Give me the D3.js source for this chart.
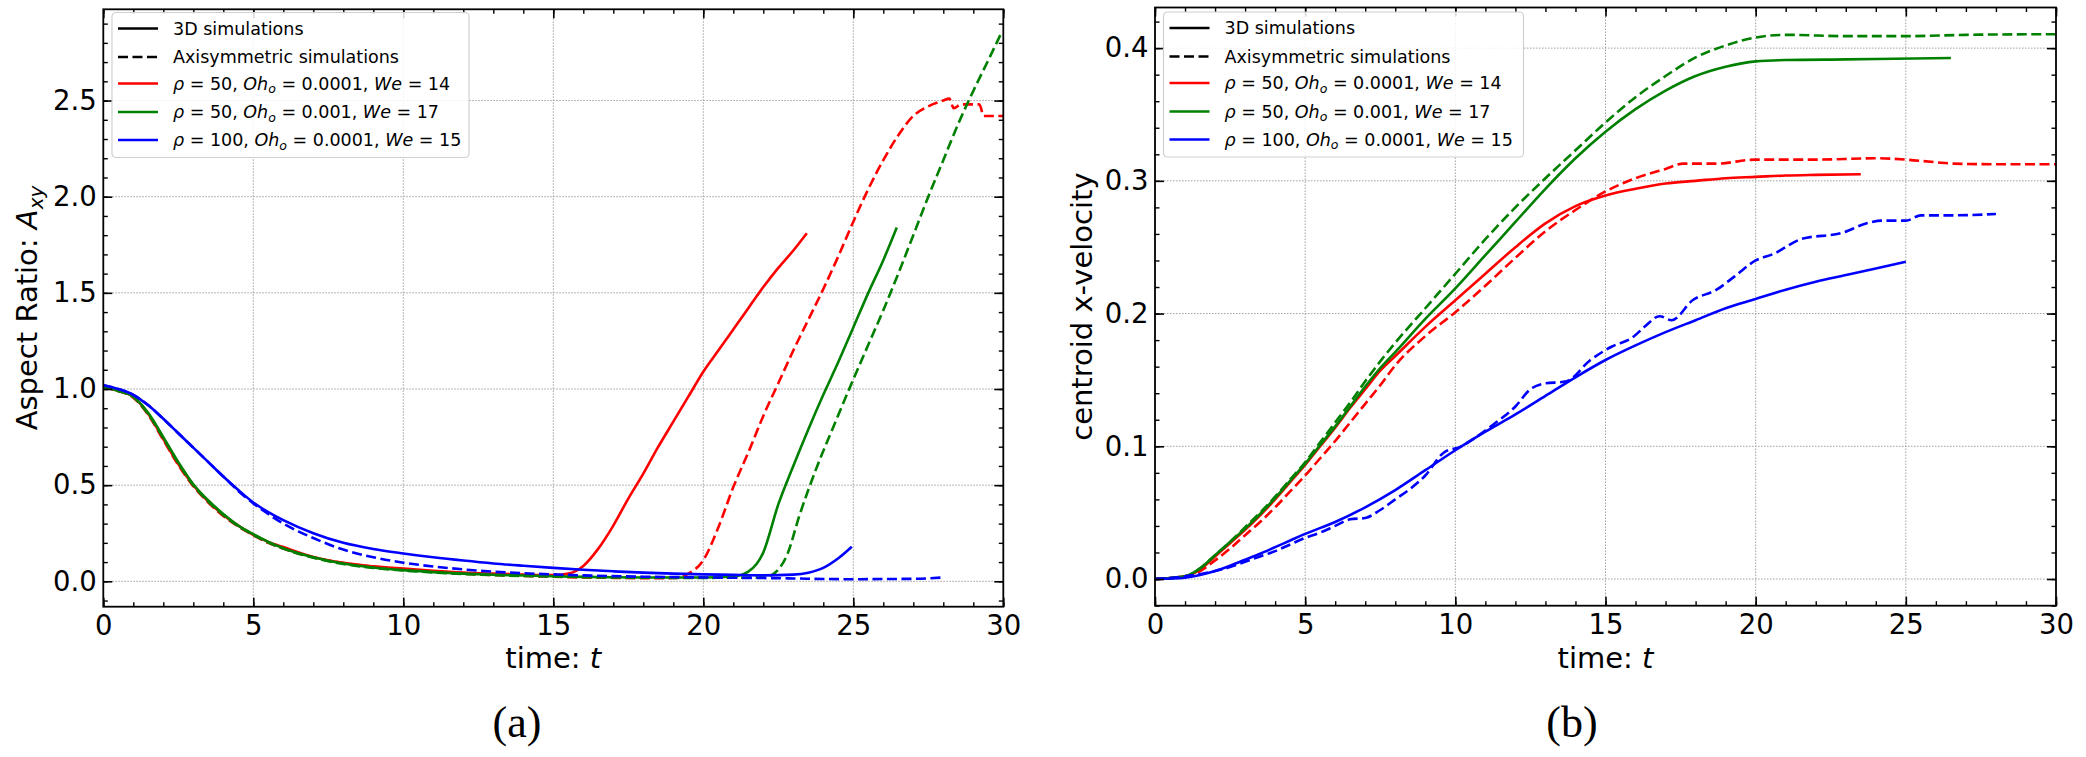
<!DOCTYPE html>
<head>
  <meta charset="utf-8">
  <style>
    body { margin: 0; background: #fff; }
    text { font-family: 'DejaVu Sans', sans-serif; fill: #000; }
    .caption { font-family: 'Liberation Serif', 'Times New Roman', serif; }
  </style>
</head>
<body>
  <script src="https://cdn.jsdelivr.net/npm/d3@7"></script>
  <script>
    // ---------- data ----------
    // panel (a): aspect ratio A_xy over time, [t, value]
    const aspRed3d = [[0,1.01],[0.5,0.99],[1,0.96],[1.5,0.87],[2,0.74],[2.5,0.61],[3,0.5],[3.5,0.415],[4,0.345],[4.5,0.29],[5,0.242],[5.5,0.205],[6,0.178],[7,0.127],[8,0.096],[9,0.078],[10,0.066],[11,0.055],[12,0.046],[13,0.04],[14,0.035],[15,0.032],[15.5,0.04],[16,0.08],[16.5,0.17],[17,0.29],[17.5,0.43],[18,0.56],[18.5,0.7],[19,0.83],[19.5,0.96],[20,1.09],[20.5,1.2],[21,1.31],[21.5,1.42],[22,1.53],[22.5,1.63],[23,1.72],[23.45,1.81]];
    const aspRedAxi = [[0,1.01],[0.5,0.99],[1,0.955],[1.5,0.865],[2,0.735],[2.5,0.605],[3,0.495],[3.5,0.41],[4,0.34],[4.5,0.285],[5,0.24],[5.5,0.2],[6,0.17],[7,0.125],[8,0.095],[9,0.075],[10,0.06],[11,0.05],[12,0.04],[13,0.033],[14,0.028],[15,0.024],[16,0.02],[17,0.018],[18,0.016],[19,0.017],[19.5,0.04],[20,0.11],[20.5,0.28],[21,0.49],[21.5,0.67],[22,0.86],[22.5,1.03],[23,1.2],[23.5,1.36],[24,1.52],[24.5,1.69],[25,1.87],[25.5,2.04],[26,2.19],[26.5,2.32],[27,2.42],[27.5,2.47],[28,2.5],[28.2,2.51],[28.35,2.46],[28.6,2.48],[29.2,2.48],[29.35,2.42],[30,2.42]];
    const aspGreen3d = [[0,1.01],[0.5,0.99],[1,0.96],[1.5,0.875],[2,0.75],[2.5,0.62],[3,0.505],[3.5,0.42],[4,0.35],[4.5,0.29],[5,0.245],[5.5,0.205],[6,0.172],[7,0.125],[8,0.093],[9,0.072],[10,0.058],[11,0.048],[12,0.04],[13,0.034],[14,0.03],[15,0.026],[16,0.023],[17,0.021],[18,0.02],[19,0.02],[20,0.02],[21,0.025],[21.5,0.05],[22,0.15],[22.5,0.4],[23,0.6],[23.5,0.79],[24,0.97],[24.5,1.14],[25,1.32],[25.5,1.5],[26,1.67],[26.45,1.84]];
    const aspGreenAxi = [[0,1.01],[0.5,0.99],[1,0.958],[1.5,0.87],[2,0.745],[2.5,0.615],[3,0.5],[3.5,0.415],[4,0.345],[4.5,0.287],[5,0.242],[5.5,0.202],[6,0.17],[7,0.122],[8,0.09],[9,0.07],[10,0.056],[11,0.046],[12,0.038],[13,0.032],[14,0.028],[15,0.025],[16,0.022],[17,0.02],[18,0.019],[19,0.018],[20,0.018],[21,0.019],[22,0.02],[22.3,0.035],[22.8,0.14],[23.2,0.34],[23.8,0.6],[24.3,0.79],[25,1.05],[25.5,1.23],[26,1.41],[26.5,1.6],[27,1.8],[27.5,2.0],[28,2.19],[28.5,2.38],[29,2.55],[29.5,2.71],[29.9,2.84]];
    const aspBlue3d = [[0,1.02],[0.5,1.0],[1,0.97],[1.5,0.915],[2,0.845],[2.5,0.77],[3,0.695],[3.5,0.62],[4,0.545],[4.5,0.475],[5,0.41],[5.5,0.36],[6,0.318],[7,0.25],[8,0.2],[9,0.168],[10,0.145],[11,0.125],[12,0.108],[13,0.093],[14,0.081],[15,0.07],[16,0.06],[17,0.052],[18,0.045],[19,0.04],[20,0.036],[21,0.034],[22,0.031],[23,0.035],[23.5,0.045],[24,0.07],[24.5,0.12],[24.95,0.18]];
    const aspBlueAxi = [[0,1.02],[0.5,1.0],[1,0.97],[1.5,0.915],[2,0.845],[2.5,0.77],[3,0.695],[3.5,0.62],[4,0.545],[4.5,0.47],[5,0.405],[5.5,0.35],[6,0.3],[6.5,0.26],[7,0.225],[8,0.165],[9,0.125],[10,0.097],[11,0.077],[12,0.062],[13,0.05],[14,0.042],[15,0.036],[16,0.031],[17,0.027],[18,0.024],[19,0.022],[20,0.02],[22,0.017],[23,0.015],[24,0.012],[25,0.011],[26,0.012],[27,0.013],[28,0.02]];

    // panel (b): centroid x-velocity over time, [t, value]
    const velRed3d = [[0,0],[1,0.002],[1.5,0.007],[2,0.017],[2.5,0.027],[3,0.037],[3.5,0.048],[4,0.06],[4.5,0.073],[5,0.086],[5.5,0.1],[6,0.114],[6.5,0.129],[7,0.143],[7.5,0.157],[8,0.168],[9,0.19],[10,0.21],[11,0.23],[12,0.25],[13,0.268],[14,0.281],[15,0.289],[16,0.294],[17,0.298],[18,0.3],[19,0.302],[20,0.303],[21,0.304],[22,0.3045],[23.5,0.305]];
    const velRedAxi = [[0,0],[1,0.002],[1.5,0.006],[2,0.014],[2.5,0.023],[3,0.033],[3.5,0.043],[4,0.054],[4.5,0.066],[5,0.078],[5.5,0.091],[6,0.104],[6.5,0.118],[7,0.132],[7.5,0.146],[8,0.161],[9,0.183],[10,0.201],[11,0.221],[12,0.242],[13,0.262],[14,0.278],[15,0.292],[16,0.302],[17,0.309],[17.6,0.313],[18.7,0.313],[20,0.316],[22,0.316],[24,0.317],[25,0.316],[26,0.314],[26.6,0.313],[28,0.3125],[30,0.3125]];
    const velGreen3d = [[0,0],[1,0.002],[1.5,0.008],[2,0.018],[2.5,0.028],[3,0.038],[3.5,0.049],[4,0.061],[4.5,0.074],[5,0.087],[5.5,0.101],[6,0.115],[6.5,0.13],[7,0.145],[7.5,0.159],[8,0.171],[9,0.196],[10,0.219],[11,0.244],[12,0.269],[13,0.294],[14,0.317],[15,0.337],[16,0.354],[17,0.368],[18,0.379],[19,0.386],[20,0.39],[21,0.391],[23,0.3915],[26.5,0.3925]];
    const velGreenAxi = [[0,0],[1,0.002],[1.5,0.008],[2,0.018],[2.5,0.028],[3,0.039],[3.5,0.05],[4,0.062],[4.5,0.075],[5,0.088],[5.5,0.103],[6,0.118],[6.5,0.133],[7,0.149],[7.5,0.164],[8,0.178],[9,0.204],[10,0.23],[11,0.256],[12,0.28],[13,0.302],[14,0.323],[15,0.344],[16,0.363],[17,0.379],[18,0.393],[19,0.402],[20,0.408],[21,0.41],[23,0.409],[25,0.409],[27,0.41],[30,0.4105]];
    const velBlue3d = [[0,0],[1,0.001],[1.5,0.003],[2,0.006],[2.5,0.01],[3,0.0145],[3.5,0.019],[4,0.024],[4.5,0.029],[5,0.034],[6,0.043],[7,0.054],[8,0.067],[9,0.082],[10,0.097],[11,0.111],[12,0.124],[13,0.138],[14,0.152],[15,0.165],[16,0.176],[17,0.186],[18,0.195],[19,0.204],[20,0.211],[21,0.218],[22,0.224],[23,0.229],[24,0.234],[25,0.239]];
    const velBlueAxi = [[0,0],[1,0.002],[2,0.006],[2.5,0.009],[3,0.013],[3.5,0.017],[4,0.021],[4.5,0.026],[5,0.031],[5.5,0.035],[6,0.04],[6.5,0.045],[7,0.046],[7.5,0.052],[8,0.06],[8.5,0.068],[9,0.078],[9.6,0.095],[10.2,0.1],[10.7,0.107],[11.3,0.117],[12,0.13],[12.5,0.143],[12.9,0.147],[13.7,0.149],[14.5,0.165],[15.2,0.175],[15.9,0.182],[16.3,0.19],[16.8,0.198],[17.2,0.195],[17.9,0.21],[18.7,0.218],[19.3,0.228],[20,0.24],[20.6,0.245],[21.5,0.256],[22.9,0.261],[23.7,0.268],[24.2,0.27],[25,0.27],[25.5,0.274],[26.5,0.274],[28,0.275]];

    // ticks and labels
    const xMajorTicks = [0, 5, 10, 15, 20, 25, 30];
    const aspMajorTicks = [0, 0.5, 1.0, 1.5, 2.0, 2.5];
    const velMajorTicks = [0, 0.1, 0.2, 0.3, 0.4];
    const caseLabels = [
      [["ρ", true], [" = 50, ", false], ["Oh", true], ["o", true, "sub"], [" = 0.0001, ", false], ["We", true], [" = 14", false]],
      [["ρ", true], [" = 50, ", false], ["Oh", true], ["o", true, "sub"], [" = 0.001, ", false], ["We", true], [" = 17", false]],
      [["ρ", true], [" = 100, ", false], ["Oh", true], ["o", true, "sub"], [" = 0.0001, ", false], ["We", true], [" = 15", false]]
    ];
    const caseColors = ["#ff0000", "#008000", "#0000ff"];

    const W = 2086, H = 757;
    const dash = "10,4.5";

    const svg = d3.select("body").append("svg")
      .attr("width", W).attr("height", H);

    function drawPanel(cfg) {
      const x = d3.scaleLinear().domain([0, 30]).range([cfg.left, cfg.right]);
      const y = d3.scaleLinear().domain(cfg.ydom).range([cfg.bottom, cfg.top]);
      const g = svg.append("g").attr("id", cfg.id);

      // grid
      const grid = g.append("g").attr("stroke", "#a0a0a0").attr("stroke-width", 1).attr("stroke-dasharray", "1.5,1.5");
      grid.selectAll("line.vx").data(xMajorTicks.slice(1, -1)).enter().append("line")
        .attr("x1", d => x(d)).attr("x2", d => x(d)).attr("y1", cfg.top).attr("y2", cfg.bottom);
      grid.selectAll("line.hy").data(cfg.yticks).enter().append("line")
        .attr("y1", d => y(d)).attr("y2", d => y(d)).attr("x1", cfg.left).attr("x2", cfg.right);

      // lines
      const clipId = cfg.id + "-clip";
      g.append("clipPath").attr("id", clipId).append("rect")
        .attr("x", cfg.left).attr("y", cfg.top)
        .attr("width", cfg.right - cfg.left).attr("height", cfg.bottom - cfg.top);
      const line = d3.line().x(d => x(d[0])).y(d => y(d[1])).curve(d3.curveMonotoneX);
      const lines = g.append("g").attr("clip-path", "url(#" + clipId + ")");
      cfg.series.forEach(s => {
        lines.append("path").datum(s.data)
          .attr("d", line)
          .attr("fill", "none")
          .attr("stroke", s.color)
          .attr("stroke-width", 2.6)
          .attr("stroke-dasharray", s.dashed ? dash : null);
      });

      // axes, ticks inward on all sides
      const minorX = d3.range(0, 31, 1);
      const minorY = d3.range(Math.ceil(cfg.ydom[0] / cfg.minor) * cfg.minor, cfg.ydom[1], cfg.minor)
        .map(v => +v.toFixed(4));
      const axes = [
        { ax: d3.axisBottom(x), t: "translate(0," + cfg.bottom + ")", lab: true, horiz: true },
        { ax: d3.axisTop(x), t: "translate(0," + cfg.top + ")", lab: false, horiz: true },
        { ax: d3.axisLeft(y), t: "translate(" + cfg.left + ",0)", lab: true, horiz: false },
        { ax: d3.axisRight(y), t: "translate(" + cfg.right + ",0)", lab: false, horiz: false }
      ];
      axes.forEach(a => {
        // minor
        g.append("g").attr("transform", a.t)
          .call(a.ax.tickValues(a.horiz ? minorX : minorY).tickSize(-4.5).tickFormat(""))
          .call(s => s.select(".domain").remove())
          .selectAll("line").attr("stroke-width", 1.4);
        // major
        const ag = g.append("g").attr("transform", a.t)
          .call(a.ax.tickValues(a.horiz ? xMajorTicks : cfg.yticks).tickSize(-9)
            .tickPadding(a.horiz ? 8.5 : 6.5)
            .tickFormat(a.lab ? (a.horiz ? d3.format("d") : d3.format(".1f")) : ""));
        ag.select(".domain").remove();
        ag.selectAll("line").attr("stroke-width", 1.6);
        ag.selectAll("text").attr("font-size", 27.5).attr("font-family", "DejaVu Sans");
      });

      // frame
      g.append("rect").attr("x", cfg.left).attr("y", cfg.top)
        .attr("width", cfg.right - cfg.left).attr("height", cfg.bottom - cfg.top)
        .attr("fill", "none").attr("stroke", "#000").attr("stroke-width", 1.8);

      // axis labels
      const xl = g.append("text").attr("x", (cfg.left + cfg.right) / 2).attr("y", 668)
        .attr("text-anchor", "middle").attr("font-size", 29);
      xl.append("tspan").text("time: ");
      xl.append("tspan").attr("font-style", "italic").text("t");

      const yl = g.append("text")
        .attr("transform", "translate(" + cfg.ylabX + "," + ((cfg.top + cfg.bottom) / 2) + ") rotate(-90)")
        .attr("text-anchor", "middle").attr("font-size", 29);
      cfg.ylabel.forEach(p => {
        const ts = yl.append("tspan").text(p[0]);
        if (p[1]) ts.attr("font-style", "italic");
        if (p[2] === "sub") ts.attr("font-size", 20).attr("dy", 6);
      });

      // legend
      const lg = g.append("g").attr("transform", "translate(" + cfg.legX + "," + cfg.legY + ")");
      lg.append("rect").attr("width", cfg.legW).attr("height", 145).attr("rx", 4)
        .attr("fill", "#fff").attr("fill-opacity", 0.85)
        .attr("stroke", "#d0d0d0").attr("stroke-width", 1.2);
      const rows = [
        { color: "#000", dashed: false, parts: [["3D simulations", false]] },
        { color: "#000", dashed: true, parts: [["Axisymmetric simulations", false]] }
      ].concat(caseLabels.map((p, i) => ({ color: caseColors[i], dashed: false, parts: p })));
      const rowY = [16, 44.5, 71, 99.5, 127.5];
      rows.forEach((r, i) => {
        lg.append("line").attr("x1", 6).attr("x2", 46).attr("y1", rowY[i]).attr("y2", rowY[i])
          .attr("stroke", r.color).attr("stroke-width", 2.6)
          .attr("stroke-dasharray", r.dashed ? dash : null);
        const tx = lg.append("text").attr("x", 61).attr("y", rowY[i] + 6).attr("font-size", 17.5);
        r.parts.forEach((p, j) => {
          const ts = tx.append("tspan").text(p[0]);
          if (p[1]) ts.attr("font-style", "italic");
          if (p[2] === "sub") ts.attr("font-size", 12.5).attr("dy", 3.5);
          else if (j > 0 && r.parts[j - 1][2] === "sub") ts.attr("dy", -3.5);
        });
      });

      // caption
      g.append("text").attr("class", "caption")
        .attr("x", cfg.capX).attr("y", 737)
        .attr("text-anchor", "middle").attr("font-size", 44)
        .attr("font-family", "Liberation Serif")
        .text(cfg.caption);
    }

    drawPanel({
      id: "panel-a", left: 103.3, right: 1003.3, top: 9.3, bottom: 606.7,
      ydom: [-0.132, 2.9745], yticks: aspMajorTicks, minor: 0.1,
      ylabX: 37, ylabel: [["Aspect Ratio: ", false], ["A", true], ["xy", true, "sub"]],
      legX: 112, legY: 12.5, legW: 357, capX: 517, caption: "(a)",
      series: [
        { data: aspRed3d, color: caseColors[0], dashed: false },
        { data: aspRedAxi, color: caseColors[0], dashed: true },
        { data: aspGreen3d, color: caseColors[1], dashed: false },
        { data: aspGreenAxi, color: caseColors[1], dashed: true },
        { data: aspBlue3d, color: caseColors[2], dashed: false },
        { data: aspBlueAxi, color: caseColors[2], dashed: true }
      ]
    });

    drawPanel({
      id: "panel-b", left: 1155, right: 2056, top: 7.5, bottom: 605.7,
      ydom: [-0.0201, 0.4306], yticks: velMajorTicks, minor: 0.02,
      ylabX: 1092, ylabel: [["centroid x-velocity", false]],
      legX: 1163.5, legY: 12, legW: 360, capX: 1572, caption: "(b)",
      series: [
        { data: velRed3d, color: caseColors[0], dashed: false },
        { data: velRedAxi, color: caseColors[0], dashed: true },
        { data: velGreen3d, color: caseColors[1], dashed: false },
        { data: velGreenAxi, color: caseColors[1], dashed: true },
        { data: velBlue3d, color: caseColors[2], dashed: false },
        { data: velBlueAxi, color: caseColors[2], dashed: true }
      ]
    });
  </script>
</body>
